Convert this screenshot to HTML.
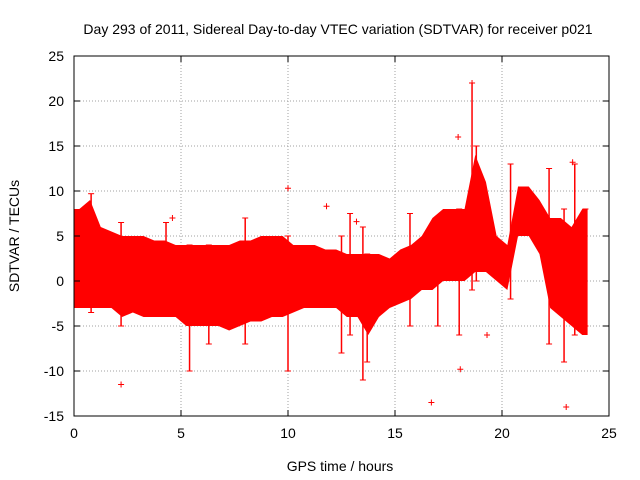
<!DOCTYPE html>
<html><head><meta charset="utf-8"><style>
body{margin:0;background:#fff;}
svg{display:block;font-family:"Liberation Sans",sans-serif;}
</style></head><body>
<svg id="c" width="640" height="480">
<text x="338" y="34" font-size="14" text-anchor="middle">Day 293 of 2011, Sidereal Day-to-day VTEC variation (SDTVAR) for receiver p021</text>
<text x="340" y="471" font-size="14" text-anchor="middle">GPS time / hours</text>
<text transform="translate(19,236) rotate(-90)" font-size="14" text-anchor="middle">SDTVAR / TECUs</text>
<g id="grid"></g><g id="marks"></g><g id="axes"></g>
</svg>
<script>
const xTicks=[0,5,10,15,20,25];
const yTicks=[-15,-10,-5,0,5,10,15,20,25];
const binStart=[0,0.5,1,1.5,2,2.5,3,3.5,4,4.5,5,5.5,6,6.5,7,7.5,8,8.5,9,9.5,10,10.5,11,11.5,12,12.5,13,13.5,14,14.5,15,15.5,16,16.5,17,17.5,18,18.5,19,19.5,20,20.5,21,21.5,22,22.5,23,23.5];
const binLow=[-3,-3,-3,-3,-4,-3.5,-4,-4,-4,-4,-5,-5,-5,-5,-5.5,-5,-4.5,-4.5,-4,-4,-3.5,-3,-3,-3,-3,-4,-4,-6,-4,-3,-2.5,-2,-1,-1,0,0,0,1,1,0,-1,5,5,3,-3,-4,-5,-6];
const binHigh=[8,9,6,5.5,5,5,5,4.5,4.5,4,4,4,4,4,4,4.5,4.5,5,5,5,4,4,4,3.5,3.5,3,3,3,3,2.5,3.5,4,5,7,8,8,8,14,11,5,4,10.5,10.5,9,7,7,6,8];
const spikeT=[0.8,2.2,4.3,5.4,6.3,8,10,12.5,12.9,13.5,13.7,15.7,17,18,18.6,18.8,20.4,22.2,22.9,23.4,23.9];
const spikeLow=[-3.5,-5,4,-10,-7,-7,-10,-8,-6,-11,-9,-5,-5,-6,-1,0,-2,-7,-9,-6,-5];
const spikeHigh=[9.7,6.5,6.5,4,4,7,5,5,7.5,6,3,7.5,4,8,22,15,13,12.5,8,13,8];
const outT=[2.2,4.6,10,11.8,13.2,16.7,18.05,17.95,18.6,19.3,23,23.3];
const outV=[-11.5,7,10.3,8.3,6.6,-13.5,-9.8,16,22,-6,-14,13.2];
const L=74,R=609,T=56,B=416;
const X=v=>L+(v-0)/25*(R-L);
const Y=v=>B-(v+15)/40*(B-T);
const NS="http://www.w3.org/2000/svg";
function mk(tag,attrs,parent){const e=document.createElementNS(NS,tag);for(const k in attrs)e.setAttribute(k,attrs[k]);document.getElementById(parent).appendChild(e);return e;}
xTicks.forEach(t=>{
 const g=mk('line',{x1:X(t),x2:X(t),y1:T,y2:B,stroke:'#a0a0a0','stroke-dasharray':'1,2'},'grid');
 
 
 const tx=mk('text',{x:X(t),y:B+22,'font-size':14,'text-anchor':'middle'},'axes');tx.textContent=t;
 
 
 mk('line',{x1:X(t),x2:X(t),y1:B,y2:B-6,stroke:'#000'},'axes');
 mk('line',{x1:X(t),x2:X(t),y1:T,y2:T+6,stroke:'#000'},'axes');
});
yTicks.forEach(t=>{
 const g=mk('line',{x1:L,x2:R,y1:Y(t),y2:Y(t),stroke:'#a0a0a0','stroke-dasharray':'1,2'},'grid');
 
 
 const tx=mk('text',{x:L-10,y:Y(t)+5,'font-size':14,'text-anchor':'end'},'axes');tx.textContent=t;
 
 
 mk('line',{x1:L,x2:L+6,y1:Y(t),y2:Y(t),stroke:'#000'},'axes');
 mk('line',{x1:R,x2:R-6,y1:Y(t),y2:Y(t),stroke:'#000'},'axes');
});
const fr=mk('rect',{x:L,y:T,width:R-L,height:B-T,fill:'none',stroke:'#000'},'axes');


const upperPts=[],lowerPts=[];
binStart.forEach((t,i)=>{
 const xc=X(t+0.25);
 upperPts.push(`${xc},${Y(binHigh[i])}`);
 lowerPts.unshift(`${xc},${Y(binLow[i])}`);
});
const nLast=binStart.length-1;
const pts=[`${X(binStart[0])},${Y(binHigh[0])}`,...upperPts,`${X(binStart[nLast]+0.5)},${Y(binHigh[nLast])}`,`${X(binStart[nLast]+0.5)},${Y(binLow[nLast])}`,...lowerPts,`${X(binStart[0])},${Y(binLow[0])}`];
const poly=mk('polygon',{points:pts.join(' '),fill:'#f00'},'marks');


spikeT.forEach((t,i)=>{
 const l=mk('line',{x1:X(t),x2:X(t),y1:Y(spikeHigh[i]),y2:Y(spikeLow[i]),stroke:'#f00','stroke-width':1.5},'marks');
 
 
 [spikeHigh[i],spikeLow[i]].forEach(v=>mk('line',{x1:X(t)-3,x2:X(t)+3,y1:Y(v),y2:Y(v),stroke:'#f00'},'marks'));
});
outT.forEach((t,i)=>{
 const p=mk('path',{d:`M${X(t)-3},${Y(outV[i])}h6M${X(t)},${Y(outV[i])-3}v6`,stroke:'#f00'},'marks');
 
 
});
</script>
</body></html>
